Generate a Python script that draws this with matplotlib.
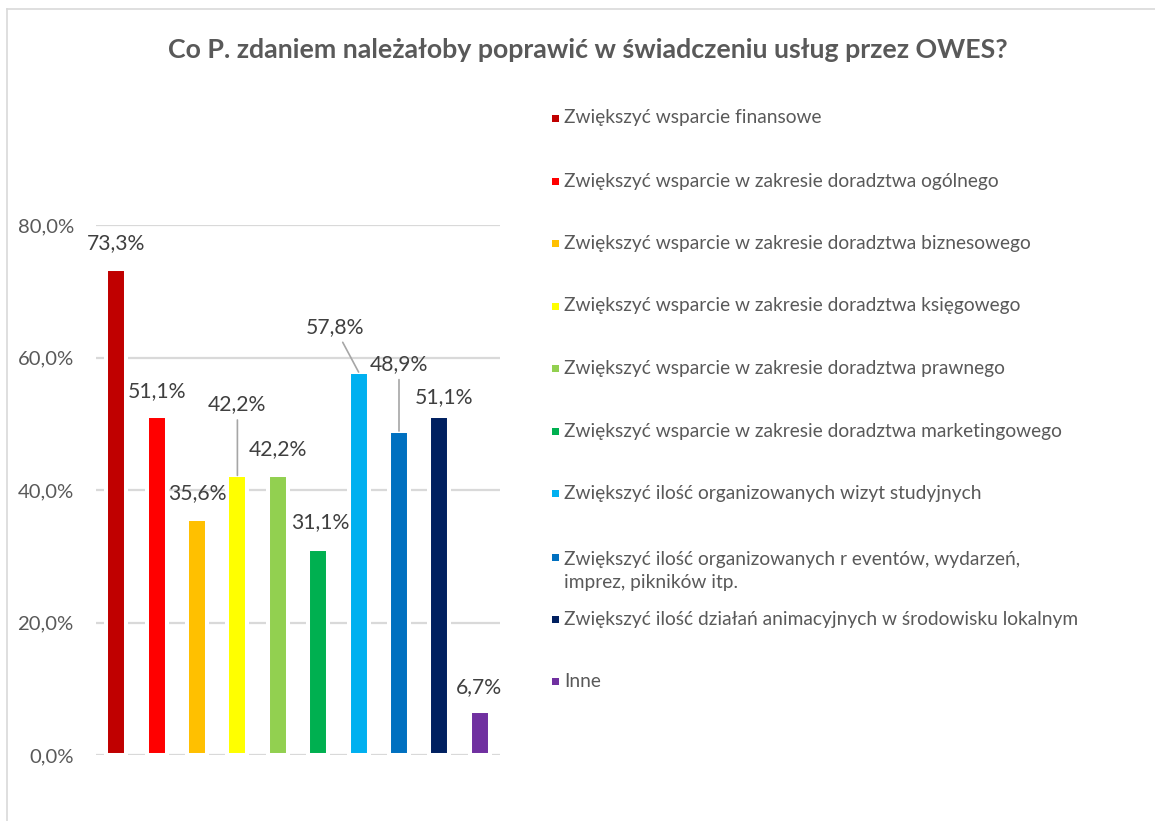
import matplotlib
matplotlib.use("Agg")
import matplotlib.pyplot as plt
from matplotlib.lines import Line2D
from matplotlib.patches import Rectangle

plt.rcParams['font.family'] = ['Lato', 'DejaVu Sans']

categories = [
    "Zwiększyć wsparcie finansowe",
    "Zwiększyć wsparcie w zakresie doradztwa ogólnego",
    "Zwiększyć wsparcie w zakresie doradztwa biznesowego",
    "Zwiększyć wsparcie w zakresie doradztwa księgowego",
    "Zwiększyć wsparcie w zakresie doradztwa prawnego",
    "Zwiększyć wsparcie w zakresie doradztwa marketingowego",
    "Zwiększyć ilość organizowanych wizyt studyjnych",
    "Zwiększyć ilość organizowanych r eventów, wydarzeń,\nimprez, pikników itp.",
    "Zwiększyć ilość działań animacyjnych w środowisku lokalnym",
    "Inne",
]
values = [73.3, 51.1, 35.6, 42.2, 42.2, 31.1, 57.8, 48.9, 51.1, 6.7]
value_labels = ["73,3%", "51,1%", "35,6%", "42,2%", "42,2%", "31,1%",
                "57,8%", "48,9%", "51,1%", "6,7%"]
colors = ["#C00000", "#FF0000", "#FFC000", "#FFFF00", "#92D050",
          "#00B050", "#00B0F0", "#0070C0", "#002060", "#7030A0"]
yticks = [0, 20, 40, 60, 80]
ytick_labels = ["0,0%", "20,0%", "40,0%", "60,0%", "80,0%"]
title = "Co P. zdaniem należałoby poprawić w świadczeniu usług przez OWES?"

# label offsets in pixels (dx, dy) from bar top, and whether a leader line is drawn
label_offsets = [(0, 26), (0, 25), (0, 26), (0, 71), (0, 26), (2, 27),
                 (-24, 45), (0, 67), (5, 19), (-1, 24)]
leaders = [False, False, False, True, False, False, True, True, False, False]

W, H = 1155, 821
fig = plt.figure(figsize=(W / 100, H / 100), dpi=100)

# outer chart frame
fig.add_artist(Line2D([7 / W, 7 / W], [0, 1 - 9 / H], transform=fig.transFigure,
                      color="#D9D9D9", lw=1.2))
fig.add_artist(Line2D([7 / W, 1], [1 - 9 / H, 1 - 9 / H], transform=fig.transFigure,
                      color="#D9D9D9", lw=1.2))

ax = fig.add_axes([96 / W, (H - 755) / H, 404 / W, 530 / H])
x = list(range(len(values)))
ax.bar(x, values, width=0.495, color=colors, edgecolor="white", linewidth=2.9, zorder=3)
ax.set_xlim(-0.5, len(values) - 0.5)
ax.set_ylim(0, 80)
ax.set_yticks(yticks)
ax.set_yticklabels(ytick_labels, fontsize=14.6, color="#595959")
ax.set_xticks([])
ax.tick_params(axis="y", length=0, pad=16)
ax.grid(axis="y", color="#D9D9D9", linewidth=1.6, zorder=0)
ax.set_axisbelow(True)
for s in ax.spines.values():
    s.set_visible(False)

for i, (v, lab) in enumerate(zip(values, value_labels)):
    dx, dy = label_offsets[i]
    kw = {}
    if leaders[i]:
        kw["arrowprops"] = dict(arrowstyle="-", color="#A6A6A6", lw=1.2,
                                shrinkA=2, shrinkB=0)
    ax.annotate(lab, xy=(i, v), xytext=(dx, dy), textcoords="offset pixels",
                ha="center", va="center", fontsize=15.2, color="#404040",
                annotation_clip=False, **kw)

fig.text(588 / W, 1 - 50 / H, title, ha="center", va="center",
         fontsize=19.3, fontweight="bold", color="#595959")

# legend
legend_y = [118, 181, 243, 306, 368, 431, 493, 571, 619, 681]
for i, (cat, col) in enumerate(zip(categories, colors)):
    yc = legend_y[i]
    n_lines = cat.count("\n") + 1
    first_y = yc - (n_lines - 1) * 14
    fig.add_artist(Rectangle((552 / W, 1 - (first_y + 4) / H), 7 / W, 7 / H,
                             transform=fig.transFigure, facecolor=col,
                             edgecolor="none"))
    fig.text(564 / W, 1 - yc / H, cat, ha="left", va="center",
             fontsize=13.8, color="#595959", linespacing=1.45)

fig.savefig("out.png", dpi=100)
